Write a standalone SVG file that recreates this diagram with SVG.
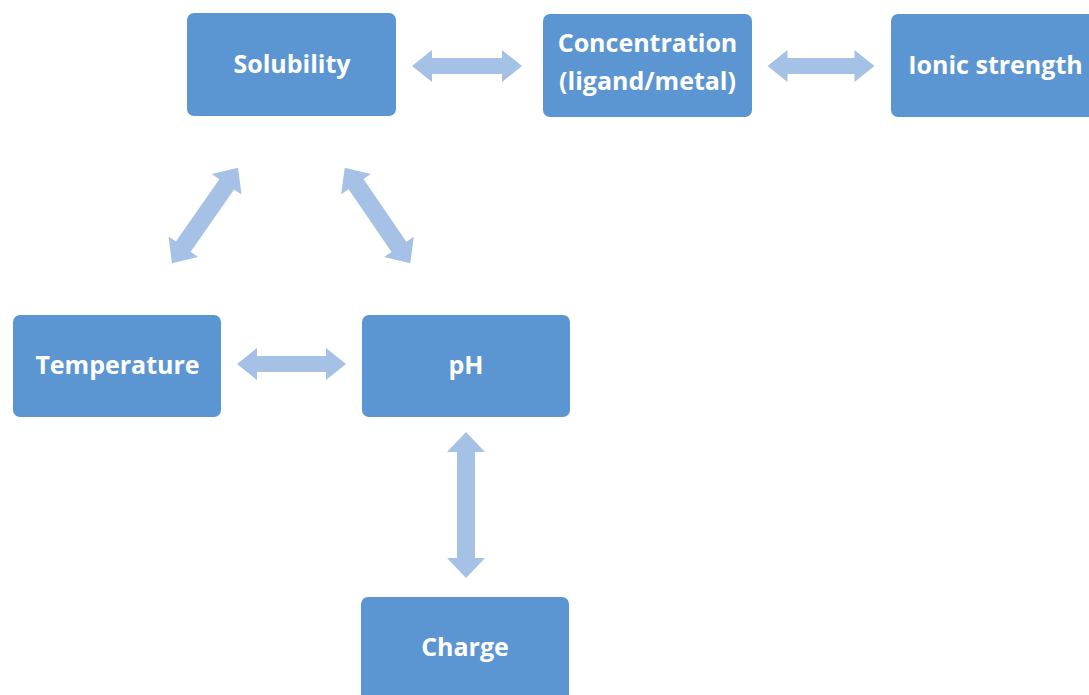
<svg xmlns="http://www.w3.org/2000/svg" width="1089" height="695" viewBox="0 0 1089 695">
<style>
.box{fill:#5b96d2;}
.lbl{fill:#ffffff;font-family:"Open Sans",Lato,sans-serif;font-weight:bold;font-size:25px;text-anchor:middle;dominant-baseline:central;}
.arr{fill:#a6c1e6;}
</style>
<rect width="1089" height="695" fill="#ffffff"/>
<g id="connectors">
<path class="arr" transform="translate(467,66)" d="M-55,0 L-35,-16 L-35,-8 L35,-8 L35,-16 L55,0 L35,16 L35,8 L-35,8 L-35,16 Z"/>
<path class="arr" transform="translate(821,66)" d="M-53.5,0 L-33.5,-16 L-33.5,-8 L33.5,-8 L33.5,-16 L53.5,0 L33.5,16 L33.5,8 L-33.5,8 L-33.5,16 Z"/>
<path class="arr" transform="translate(291.5,364)" d="M-54.5,0 L-34.5,-16 L-34.5,-8 L34.5,-8 L34.5,-16 L54.5,0 L34.5,16 L34.5,8 L-34.5,8 L-34.5,16 Z"/>
<path class="arr" transform="translate(466,505) rotate(90)" d="M-73,0 L-53,-19 L-53,-9 L53,-9 L53,-19 L73,0 L53,19 L53,9 L-53,9 L-53,19 Z"/>
<path class="arr" transform="translate(205,215.5) rotate(-55.2)" d="M-58,0 L-38,-18 L-38,-9 L38,-9 L38,-18 L58,0 L38,18 L38,9 L-38,9 L-38,18 Z"/>
<path class="arr" transform="translate(377.5,215.5) rotate(55.6)" d="M-58,0 L-38,-18 L-38,-9 L38,-9 L38,-18 L58,0 L38,18 L38,9 L-38,9 L-38,18 Z"/>
</g>
<g id="solubility">
<rect class="box" x="187" y="13" width="209" height="103" rx="7"/>
<text class="lbl" x="292" y="63">Solubility</text>
</g>
<g id="concentration">
<rect class="box" x="543" y="14" width="209" height="103" rx="7"/>
<text class="lbl" x="647.5" y="42">Concentration</text>
<text class="lbl" x="647.5" y="80">(ligand/metal)</text>
</g>
<g id="ionic-strength">
<rect class="box" x="891" y="14" width="210" height="103" rx="7"/>
<text class="lbl" x="995.5" y="64">Ionic strength</text>
</g>
<g id="temperature">
<rect class="box" x="13" y="315" width="208" height="102" rx="7"/>
<text class="lbl" x="117.5" y="364">Temperature</text>
</g>
<g id="ph">
<rect class="box" x="362" y="315" width="208" height="102" rx="7"/>
<text class="lbl" x="466" y="364">pH</text>
</g>
<g id="charge">
<rect class="box" x="361" y="597" width="208" height="110" rx="7"/>
<text class="lbl" x="465" y="646">Charge</text>
</g>
</svg>
